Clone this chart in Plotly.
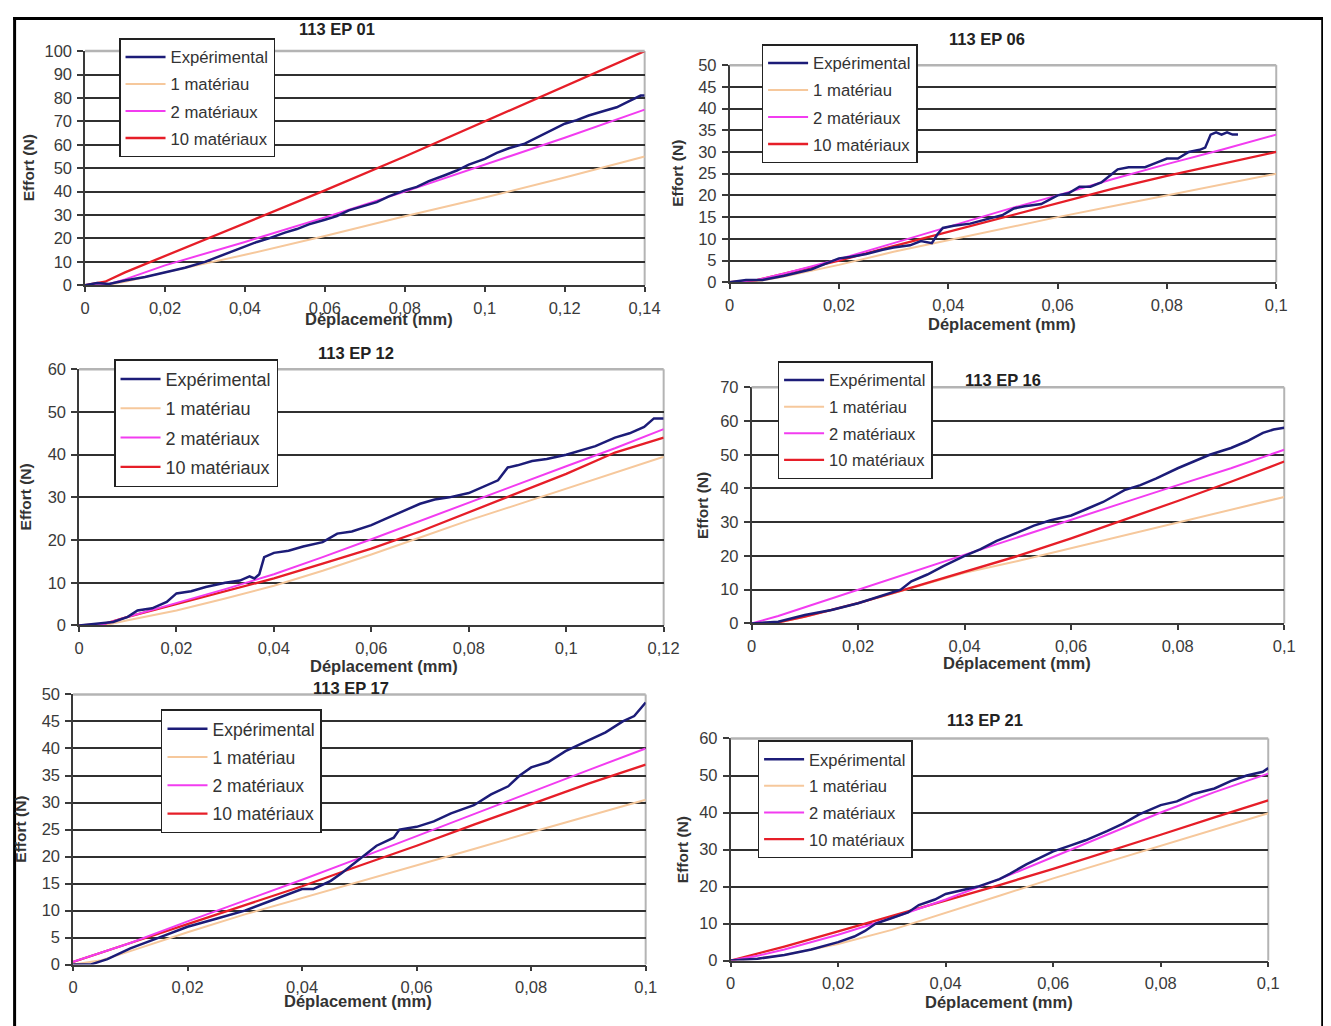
import plotly.graph_objects as go

# calibration of where the figure lands in the photographed window
SX, OX = 0.985, 11.9
SY, OY = 0.982, 15.9
FW, FH = 1340, 1030

# ---------------- DATA ----------------
names = ["Expérimental", "1 matériau", "2 matériaux", "10 matériaux"]
titles = ["113 EP 01", "113 EP 06", "113 EP 12", "113 EP 16", "113 EP 17", "113 EP 21"]

# Panel 1 : 113 EP 01
p1_exp_x = [0, 0.003, 0.006, 0.01, 0.015, 0.02, 0.025, 0.03, 0.033, 0.036, 0.04, 0.043, 0.046, 0.05, 0.053,
            0.056, 0.06, 0.063, 0.066, 0.07, 0.073, 0.076, 0.08, 0.083, 0.086, 0.09, 0.093, 0.096, 0.1, 0.103,
            0.106, 0.11, 0.113, 0.116, 0.12, 0.123, 0.126, 0.13, 0.133, 0.136, 0.139, 0.14]
p1_exp_y = [0, 1, 0.5, 2, 3.5, 5.5, 7.5, 10, 12, 14, 16.5, 18.5, 20, 22.5, 24,
            26, 28, 29.5, 32, 34, 35.5, 38, 40.5, 42, 44.5, 47, 49, 51.5, 54, 56.5,
            58.5, 60.5, 63, 65.5, 69, 70.5, 72.5, 74.5, 76, 78.5, 81, 81]
p1_mod_x = [0, 0.005, 0.01, 0.02, 0.04, 0.06, 0.08, 0.1, 0.12, 0.14]
p1_m1 = [0, 0, 1.5, 5.5, 13, 21, 29.5, 37.5, 46, 55]
p1_m2 = [0, 0, 2.5, 8.5, 18.5, 29, 40, 51.5, 63, 75]
p1_m10 = [0, 1.5, 5.5, 12.5, 26.5, 40.5, 55, 70, 85, 100]

# Panel 2 : 113 EP 06
p2_exp_x = [0, 0.003, 0.006, 0.01, 0.015, 0.02, 0.022, 0.025, 0.028, 0.03, 0.033, 0.035, 0.037, 0.038, 0.039,
            0.041, 0.044, 0.047, 0.05, 0.052, 0.054, 0.057, 0.06, 0.062, 0.064, 0.066, 0.068, 0.07, 0.071,
            0.073, 0.076, 0.078, 0.08, 0.082, 0.084, 0.086, 0.087, 0.088, 0.089, 0.09, 0.091, 0.092, 0.093]
p2_exp_y = [0, 0.5, 0.5, 1.5, 3, 5.5, 5.8, 6.5, 7.5, 8, 8.5, 9.5, 9, 11, 12.5,
            13, 13.5, 14.5, 15.5, 17, 17.5, 18, 20, 20.5, 22, 22, 23, 25, 26,
            26.5, 26.5, 27.5, 28.5, 28.5, 30, 30.5, 31, 34, 34.5, 34, 34.5, 34, 34]
p2_mod_x = [0, 0.005, 0.01, 0.02, 0.03, 0.04, 0.05, 0.06, 0.07, 0.08, 0.09, 0.1]
p2_m1 = [0, 0.2, 1.3, 4, 7, 9.7, 12.4, 15, 17.5, 20, 22.5, 25]
p2_m2 = [0, 0.5, 2, 5.3, 9, 12.7, 16.5, 20, 23.7, 27.2, 30.5, 34]
p2_m10 = [0, 0.5, 2, 5, 8.3, 11.6, 15, 18.3, 21.5, 24.5, 27.3, 30]

# Panel 3 : 113 EP 12
p3_exp_x = [0, 0.004, 0.007, 0.01, 0.012, 0.015, 0.018, 0.02, 0.023, 0.026, 0.03, 0.033, 0.035, 0.036, 0.037,
            0.038, 0.04, 0.043, 0.046, 0.05, 0.053, 0.056, 0.06, 0.063, 0.066, 0.07, 0.073, 0.076, 0.08,
            0.083, 0.086, 0.088, 0.09, 0.093, 0.096, 0.1, 0.103, 0.106, 0.11, 0.113, 0.116, 0.118, 0.12]
p3_exp_y = [0, 0.5, 0.8, 2, 3.5, 4, 5.5, 7.5, 8, 9, 10, 10.5, 11.5, 11, 12,
            16, 17, 17.5, 18.5, 19.5, 21.5, 22, 23.5, 25, 26.5, 28.5, 29.5, 30, 31,
            32.5, 34, 37, 37.5, 38.5, 39, 40, 41, 42, 44, 45, 46.5, 48.5, 48.5]
p3_mod_x = [0, 0.005, 0.01, 0.02, 0.03, 0.04, 0.05, 0.06, 0.07, 0.08, 0.09, 0.1, 0.11, 0.12]
p3_m1 = [0, 0, 1.2, 3.5, 6.3, 9.3, 12.8, 16.6, 20.6, 24.6, 28.3, 32, 35.8, 39.5]
p3_m2 = [0, 0.3, 2, 5.3, 8.5, 12, 16, 20.2, 24.5, 28.7, 33, 37.3, 41.5, 46]
p3_m10 = [0, 0.3, 2, 5, 8, 11, 14.5, 18, 22, 26.5, 31, 35.5, 40.5, 44]

# Panel 4 : 113 EP 16
p4_exp_x = [0, 0.005, 0.01, 0.015, 0.02, 0.025, 0.028, 0.03, 0.033, 0.036, 0.04, 0.043, 0.046, 0.05, 0.053,
            0.056, 0.06, 0.063, 0.066, 0.07, 0.073, 0.076, 0.08, 0.083, 0.086, 0.09, 0.093, 0.096, 0.098, 0.1]
p4_exp_y = [0, 0.5, 2.5, 4, 6, 8.5, 10, 12.5, 14.5, 17, 20, 22, 24.5, 27, 29,
            30.5, 32, 34, 36, 39.5, 41, 43, 46, 48, 50, 52, 54, 56.5, 57.5, 58]
p4_mod_x = [0, 0.005, 0.01, 0.02, 0.03, 0.04, 0.05, 0.06, 0.07, 0.08, 0.09, 0.1]
p4_m1 = [0, 0.3, 2, 6, 10.5, 15, 18.5, 22.3, 26, 30, 33.8, 37.5]
p4_m2 = [0, 2.2, 4.8, 10, 15.3, 20.5, 25.7, 30.8, 35.9, 41, 46, 51.5]
p4_m10 = [0, 0.3, 2, 6, 10.6, 15.3, 20, 25.2, 30.7, 36.3, 42, 48]

# Panel 5 : 113 EP 17
p5_exp_x = [0, 0.003, 0.006, 0.01, 0.015, 0.02, 0.025, 0.03, 0.035, 0.04, 0.042, 0.045, 0.047, 0.05, 0.053,
            0.056, 0.057, 0.06, 0.063, 0.066, 0.07, 0.073, 0.076, 0.078, 0.08, 0.083, 0.086, 0.09, 0.093,
            0.096, 0.098, 0.1]
p5_exp_y = [0, 0, 1, 3, 5, 7, 8.5, 10, 12, 14, 14, 15.5, 17, 19.5, 22,
            23.5, 25, 25.5, 26.5, 28, 29.5, 31.5, 33, 35, 36.5, 37.5, 39.5, 41.5, 43,
            45, 46, 48.5]
p5_mod_x = [0, 0.005, 0.01, 0.02, 0.03, 0.04, 0.05, 0.06, 0.07, 0.08, 0.09, 0.1]
p5_m1 = [0, 0.8, 2.5, 6, 9.3, 12.3, 15.3, 18.4, 21.4, 24.5, 27.5, 30.5]
p5_m2 = [0.5, 2.2, 4, 8, 11.8, 15.7, 19.7, 23.8, 27.8, 31.9, 36, 40]
p5_m10 = [0.5, 2.2, 4, 7.5, 11, 14.5, 18.3, 22, 25.9, 29.7, 33.5, 37]

# Panel 6 : 113 EP 21
p6_exp_x = [0, 0.005, 0.01, 0.015, 0.02, 0.023, 0.025, 0.027, 0.03, 0.033, 0.035, 0.038, 0.04, 0.043, 0.046,
            0.05, 0.052, 0.055, 0.058, 0.06, 0.063, 0.066, 0.07, 0.073, 0.076, 0.08, 0.083, 0.086, 0.09,
            0.093, 0.096, 0.099, 0.1]
p6_exp_y = [0, 0.5, 1.5, 3, 5, 6.5, 8, 10, 11.5, 13, 15, 16.5, 18, 19, 20,
            22, 23.5, 26, 28, 29.5, 31, 32.5, 35, 37, 39.5, 42, 43, 45, 46.5,
            48.5, 50, 51, 52]
p6_mod_x = [0, 0.005, 0.01, 0.02, 0.03, 0.04, 0.05, 0.06, 0.07, 0.08, 0.09, 0.1]
p6_m1 = [0, 0.5, 1.5, 4.5, 8.3, 12.8, 17.5, 22.2, 26.6, 30.9, 35.4, 39.8]
p6_m2 = [0, 1.3, 3, 7, 11.5, 16.5, 22, 28, 34, 40, 45.5, 50.5]
p6_m10 = [0, 1.8, 3.8, 7.9, 12, 16.2, 20.4, 24.8, 29.3, 34, 38.7, 43.3]

x_max = [0.14, 0.1, 0.12, 0.1, 0.1, 0.1]
y_max = [100, 50, 60, 70, 50, 60]
y_step = [10, 5, 10, 10, 5, 10]

# ---------------- LAYOUT (reference pixels) ----------------
areas = [(84, 644, 50, 284), (729, 1276, 64, 281), (78, 663, 368, 624),
         (751, 1284, 386, 622), (72, 645, 693, 963), (730, 1268, 737, 959)]
title_pos = [(336, 28), (987, 38), (355, 352), (1003, 379), (350, 687), (985, 719)]
xlab_pos = [(378, 318), (1002, 323), (383, 665), (1017, 662), (357, 999), (999, 1000)]
ylab_pos = [(27, 167), (677, 172), (24, 496), (702, 504), (19, 828), (682, 848)]
legend_pos = [(118, 37), (761, 43), (113, 358), (777, 360), (160, 708), (757, 739)]
legend_font = [16.7, 16.7, 18, 16.5, 17.5, 16.5]
legend_gap = [2.3, 2.3, 2.9, 2.2, 2.5, 2.2]

colors = {"Expérimental": "#1c1c78", "1 matériau": "#f6c89c",
          "2 matériaux": "#f23cf0", "10 matériaux": "#e61e28"}
widths = {"Expérimental": 2.5, "1 matériau": 2, "2 matériaux": 2, "10 matériaux": 2.3}
ranks = {"Expérimental": 1, "1 matériau": 2, "2 matériaux": 3, "10 matériaux": 4}

panel_data = [
    (p1_exp_x, p1_exp_y, p1_mod_x, p1_m1, p1_m2, p1_m10),
    (p2_exp_x, p2_exp_y, p2_mod_x, p2_m1, p2_m2, p2_m10),
    (p3_exp_x, p3_exp_y, p3_mod_x, p3_m1, p3_m2, p3_m10),
    (p4_exp_x, p4_exp_y, p4_mod_x, p4_m1, p4_m2, p4_m10),
    (p5_exp_x, p5_exp_y, p5_mod_x, p5_m1, p5_m2, p5_m10),
    (p6_exp_x, p6_exp_y, p6_mod_x, p6_m1, p6_m2, p6_m10),
]

FONT = "Liberation Sans, Arial, sans-serif"
fig = go.Figure()
layout = dict(width=FW, height=FH, margin=dict(l=0, r=0, t=0, b=0),
              paper_bgcolor="white", plot_bgcolor="white", separators=", ",
              font=dict(family=FONT, color="#333333"), showlegend=True)
annotations = []
shapes = []


def px(x):
    return min(max((x - OX) / SX / FW, 0), 1)


def py(y):
    return min(max(1 - (y - OY) / SY / FH, 0), 1)


for i, (ex, ey, mx, m1, m2, m10) in enumerate(panel_data, start=1):
    k = i - 1
    xa = "x" if i == 1 else f"x{i}"
    ya = "y" if i == 1 else f"y{i}"
    leg = "legend" if i == 1 else f"legend{i}"
    series = [("1 matériau", mx, m1), ("10 matériaux", mx, m10),
              ("2 matériaux", mx, m2), ("Expérimental", ex, ey)]
    for nm, xs, ys in series:
        fig.add_trace(go.Scatter(x=xs, y=ys, mode="lines", name=nm,
                                 line=dict(color=colors[nm], width=widths[nm]),
                                 xaxis=xa, yaxis=ya, legend=leg,
                                 legendgroup=f"g{i}_{ranks[nm]}", legendrank=ranks[nm]))
    l, r, t, b = areas[k]
    xkey = "xaxis" if i == 1 else f"xaxis{i}"
    ykey = "yaxis" if i == 1 else f"yaxis{i}"
    layout[xkey] = dict(domain=[px(l), px(r)], anchor=ya, range=[0, x_max[k]],
                        tick0=0, dtick=0.02, showgrid=False, zeroline=False,
                        showline=True, linecolor="#3a3a3a", linewidth=1.5,
                        ticks="outside", ticklen=5, tickcolor="#3a3a3a", tickwidth=1.5,
                        tickfont=dict(size=16.5, color="#3a3a3a"),
                        ticklabelstandoff=2)
    layout[ykey] = dict(domain=[py(b), py(t)], anchor=xa, range=[0, y_max[k]],
                        tick0=0, dtick=y_step[k], showgrid=True, gridcolor="#303030",
                        gridwidth=2, zeroline=False,
                        showline=True, linecolor="#3a3a3a", linewidth=1.5,
                        ticks="outside", ticklen=6, tickcolor="#3a3a3a", tickwidth=1.5,
                        tickfont=dict(size=16.5, color="#3a3a3a"), ticklabelstandoff=2)
    # light grey top and right border of the plot area
    shapes.append(dict(type="line", xref="paper", yref="paper", x0=px(l), x1=px(r),
                       y0=py(t), y1=py(t), line=dict(color="#b4b4b4", width=2.5), layer="above"))
    shapes.append(dict(type="line", xref="paper", yref="paper", x0=px(r), x1=px(r),
                       y0=py(t), y1=py(b), line=dict(color="#b4b4b4", width=2), layer="below"))
    lx, ly = legend_pos[k]
    layout[leg] = dict(x=px(lx), y=py(ly), xanchor="left", yanchor="top",
                       bgcolor="white", bordercolor="#222222", borderwidth=1.5,
                       font=dict(family=FONT, size=legend_font[k], color="#333333"),
                       tracegroupgap=legend_gap[k], itemwidth=40)
    tx, ty = title_pos[k]
    annotations.append(dict(text=f"<b>{titles[k]}</b>", x=px(tx), y=py(ty), xref="paper",
                            yref="paper", showarrow=False, xanchor="center", yanchor="middle",
                            font=dict(size=16.5, color="#222222", family=FONT)))
    tx, ty = xlab_pos[k]
    annotations.append(dict(text="<b>Déplacement (mm)</b>", x=px(tx), y=py(ty), xref="paper",
                            yref="paper", showarrow=False, xanchor="center", yanchor="middle",
                            font=dict(size=16.5, color="#333333", family=FONT)))
    tx, ty = ylab_pos[k]
    annotations.append(dict(text="<b>Effort (N)</b>", x=px(tx), y=py(ty), xref="paper",
                            yref="paper", showarrow=False, xanchor="center", yanchor="middle",
                            textangle=-90, font=dict(size=15.5, color="#333333", family=FONT)))

# black frame of the picture (left, top, right)
for x0, x1, y0, y1 in [(12, 15, 16, 1030), (12, 1328, 16, 19), (1321, 1328, 16, 1030)]:
    shapes.append(dict(type="rect", xref="paper", yref="paper", x0=px(x0), x1=px(x1),
                       y0=py(y1), y1=py(y0), fillcolor="black", line=dict(width=0), layer="above"))

layout["annotations"] = annotations
layout["shapes"] = shapes
fig.update_layout(**layout)
fig.write_html("out.html")
